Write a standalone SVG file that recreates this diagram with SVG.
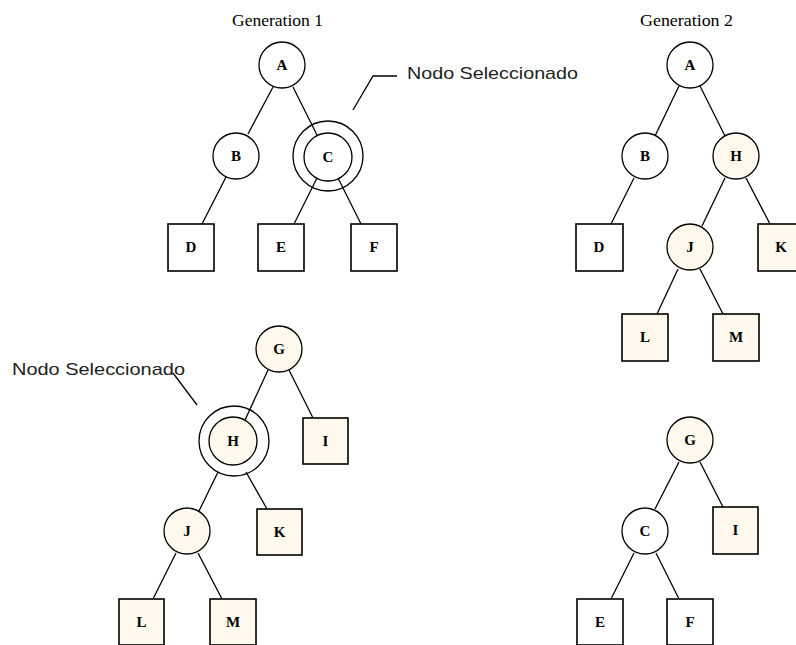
<svg xmlns="http://www.w3.org/2000/svg" width="796" height="645" viewBox="0 0 796 645">
<style>
.bg{fill:#ffffff}
.c{fill:#ffffff;stroke:#000;stroke-width:1.3}
.cc{fill:#fef9ec;stroke:#000;stroke-width:1.3}
.ring{fill:none;stroke:#000;stroke-width:1.3}
.r{fill:#ffffff;stroke:#000;stroke-width:1.6}
.rc{fill:#fef9ec;stroke:#000;stroke-width:1.6}
.lbl{font-family:"Liberation Serif","DejaVu Serif",serif;font-weight:bold;font-size:15px;text-anchor:middle;fill:#000}
.title{font-family:"Liberation Serif","DejaVu Serif",serif;font-size:17px;fill:#000}
.note{font-family:"Liberation Sans",Arial,sans-serif;font-size:17px;fill:#222}
.edge{stroke:#000;stroke-width:1.3;fill:none}
</style>
<rect class="bg" x="0" y="0" width="796" height="645"/>
<text class="title" x="232" y="26" textLength="91" lengthAdjust="spacingAndGlyphs">Generation 1</text>
<text class="title" x="640" y="26" textLength="93" lengthAdjust="spacingAndGlyphs">Generation 2</text>
<text class="note" x="407" y="79" textLength="171" lengthAdjust="spacingAndGlyphs">Nodo Seleccionado</text>
<text class="note" x="12" y="375" textLength="173" lengthAdjust="spacingAndGlyphs">Nodo Seleccionado</text>
<g id="connectors">
<polyline class="edge" points="353,110 373,76 397,76"/>
<line class="edge" x1="173" y1="373" x2="197" y2="405"/>
<line class="edge" x1="273" y1="87" x2="248" y2="134"/>
<line class="edge" x1="293" y1="87" x2="317" y2="135"/>
<line class="edge" x1="226" y1="177" x2="202" y2="224"/>
<line class="edge" x1="317" y1="178" x2="294" y2="224"/>
<line class="edge" x1="338" y1="178" x2="361" y2="224"/>
<line class="edge" x1="679" y1="86" x2="655" y2="136"/>
<line class="edge" x1="700" y1="86" x2="725" y2="136"/>
<line class="edge" x1="634" y1="178" x2="611" y2="224"/>
<line class="edge" x1="725" y1="178" x2="702" y2="226"/>
<line class="edge" x1="746" y1="178" x2="770" y2="224"/>
<line class="edge" x1="678" y1="269" x2="657" y2="314"/>
<line class="edge" x1="700" y1="269" x2="723" y2="314"/>
<line class="edge" x1="268" y1="370" x2="245" y2="420"/>
<line class="edge" x1="289" y1="370" x2="313" y2="418"/>
<line class="edge" x1="218" y1="472" x2="199" y2="511"/>
<line class="edge" x1="246" y1="472" x2="267" y2="509"/>
<line class="edge" x1="176" y1="553" x2="153" y2="599"/>
<line class="edge" x1="198" y1="553" x2="222" y2="599"/>
<line class="edge" x1="679" y1="462" x2="655" y2="509"/>
<line class="edge" x1="700" y1="462" x2="723" y2="507"/>
<line class="edge" x1="634" y1="553" x2="611" y2="599"/>
<line class="edge" x1="656" y1="553" x2="679" y2="599"/>
</g>
<g id="g1-A"><circle class="c" cx="282" cy="65" r="23"/><text class="lbl" x="282" y="70">A</text></g>
<g id="g1-B"><circle class="c" cx="236" cy="156" r="23"/><text class="lbl" x="236" y="161">B</text></g>
<g id="g1-C"><circle class="ring" cx="328" cy="156" r="35"/><circle class="c" cx="328" cy="157" r="24"/><text class="lbl" x="328" y="162">C</text></g>
<g id="g1-D"><rect class="r" x="168" y="224" width="46" height="47"/><text class="lbl" x="191" y="252">D</text></g>
<g id="g1-E"><rect class="r" x="258" y="224" width="46" height="47"/><text class="lbl" x="281" y="252">E</text></g>
<g id="g1-F"><rect class="r" x="351" y="224" width="46" height="47"/><text class="lbl" x="374" y="252">F</text></g>
<g id="g2-A"><circle class="c" cx="690" cy="65" r="23"/><text class="lbl" x="690" y="70">A</text></g>
<g id="g2-B"><circle class="c" cx="645" cy="156" r="23"/><text class="lbl" x="645" y="161">B</text></g>
<g id="g2-H"><circle class="cc" cx="736" cy="156" r="23"/><text class="lbl" x="736" y="161">H</text></g>
<g id="g2-D"><rect class="r" x="576" y="224" width="47" height="47"/><text class="lbl" x="599" y="252">D</text></g>
<g id="g2-J"><circle class="cc" cx="690" cy="247" r="23"/><text class="lbl" x="690" y="252">J</text></g>
<g id="g2-K"><rect class="rc" x="758" y="224" width="46" height="47"/><text class="lbl" x="781" y="252">K</text></g>
<g id="g2-L"><rect class="rc" x="622" y="314" width="46" height="47"/><text class="lbl" x="645" y="342">L</text></g>
<g id="g2-M"><rect class="rc" x="713" y="314" width="46" height="47"/><text class="lbl" x="736" y="342">M</text></g>
<g id="p1-G"><circle class="cc" cx="279" cy="349" r="23"/><text class="lbl" x="279" y="354">G</text></g>
<g id="p1-H"><circle class="ring" cx="234" cy="441" r="35"/><circle class="cc" cx="233" cy="441" r="24"/><text class="lbl" x="233" y="446">H</text></g>
<g id="p1-I"><rect class="rc" x="303" y="418" width="45" height="46"/><text class="lbl" x="325.5" y="446">I</text></g>
<g id="p1-J"><circle class="cc" cx="187" cy="531" r="23"/><text class="lbl" x="187" y="536">J</text></g>
<g id="p1-K"><rect class="rc" x="257" y="509" width="45" height="46"/><text class="lbl" x="279.5" y="537">K</text></g>
<g id="p1-L"><rect class="rc" x="119" y="599" width="45" height="46"/><text class="lbl" x="141.5" y="627">L</text></g>
<g id="p1-M"><rect class="rc" x="210" y="599" width="46" height="46"/><text class="lbl" x="233" y="627">M</text></g>
<g id="p2-G"><circle class="cc" cx="690" cy="440" r="23"/><text class="lbl" x="690" y="445">G</text></g>
<g id="p2-C"><circle class="c" cx="645" cy="531" r="23"/><text class="lbl" x="645" y="536">C</text></g>
<g id="p2-I"><rect class="rc" x="713" y="507" width="45" height="47"/><text class="lbl" x="735.5" y="535">I</text></g>
<g id="p2-E"><rect class="r" x="577" y="599" width="46" height="46"/><text class="lbl" x="600" y="627">E</text></g>
<g id="p2-F"><rect class="r" x="667" y="599" width="46" height="46"/><text class="lbl" x="690" y="627">F</text></g>
</svg>
